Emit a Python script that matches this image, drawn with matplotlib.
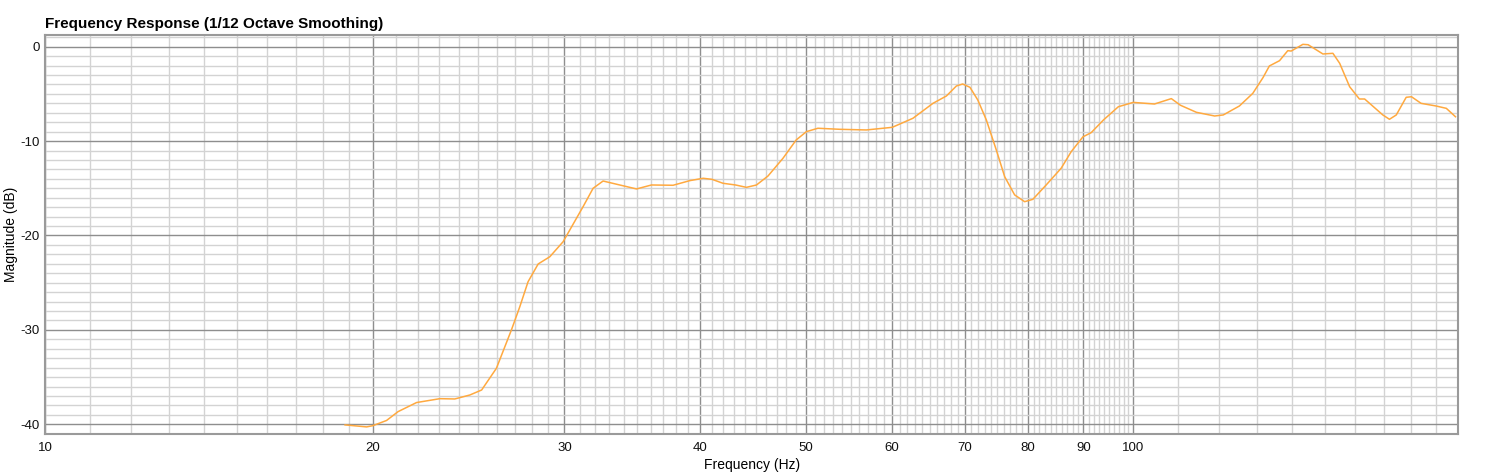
import numpy as np
import matplotlib
matplotlib.use("Agg")
from matplotlib import pyplot as plt
from matplotlib.ticker import FixedLocator, NullFormatter

# frequency response (Hz, dB)
freq_hz = [18.86, 19.74, 20.0, 20.59, 21.1, 21.94, 23.05, 23.79, 24.56, 25.18,
           25.98, 26.82, 27.3, 27.78, 28.38, 29.09, 29.92, 31.21, 31.88, 32.56,
           33.73, 34.95, 36.07, 37.76, 39.12, 40.24, 41.0, 41.97, 43.1, 44.1,
           45.05, 46.16, 47.65, 49.0, 50.07, 51.3, 53.73, 56.84, 60.05, 62.74,
           65.45, 67.34, 68.78, 69.7, 70.78, 71.97, 73.28, 74.84, 76.18, 77.8,
           79.47, 80.86, 83.17, 85.85, 87.7, 89.9, 91.5, 93.9, 96.9, 100.0,
           104.6, 108.4, 110.5, 114.3, 118.8, 121.0, 125.2, 128.8, 131.6, 133.4,
           136.3, 138.7, 139.7, 143.2, 144.8, 149.4, 152.6, 154.8, 158.1, 161.4,
           163.2, 169.6, 172.0, 174.5, 178.2, 180.2, 183.9, 189.8, 194.0, 197.8]
mag_db = [-40.07, -40.28, -40.15, -39.6, -38.66, -37.7, -37.29, -37.32, -36.9, -36.37,
          -34.07, -30.0, -27.54, -24.9, -23.02, -22.25, -20.66, -16.95, -15.0, -14.23,
          -14.65, -15.07, -14.65, -14.68, -14.19, -13.94, -14.05, -14.47, -14.65, -14.9,
          -14.65, -13.7, -11.82, -9.88, -9.0, -8.64, -8.75, -8.82, -8.54, -7.58,
          -6.0, -5.22, -4.16, -3.95, -4.3, -5.65, -7.76, -10.94, -13.77, -15.7,
          -16.42, -16.17, -14.65, -12.88, -11.12, -9.55, -9.1, -7.76, -6.36, -5.9,
          -6.07, -5.5, -6.2, -6.95, -7.34, -7.23, -6.28, -4.94, -3.28, -2.04,
          -1.48, -0.42, -0.46, 0.25, 0.21, -0.77, -0.7, -1.76, -4.24, -5.54,
          -5.54, -7.23, -7.69, -7.23, -5.36, -5.3, -6.0, -6.28, -6.53, -7.42]

major_hz = [10, 20, 30, 40, 50, 60, 70, 80, 90, 100]
minor_hz = [f for f in range(11, 100) if f % 10] + list(range(110, 200, 10))
major_db = [0, -10, -20, -30, -40]
minor_db = [d for d in range(-41, 2) if d % 10]

plt.rcParams['font.family'] = ['Liberation Sans', 'DejaVu Sans']
plt.rcParams['axes.unicode_minus'] = False

fig = plt.figure(figsize=(14.91, 4.73), dpi=100)
ax = fig.add_axes([0.0304, 0.0825, 0.9477, 0.8435])

ax.plot(freq_hz, mag_db, color='#ffa93f', lw=1.1, zorder=3)

ax.set_xscale('log')
ax.set_xlim(10, 199)
ax.set_ylim(-41.03, 1.24)

ax.xaxis.set_major_locator(FixedLocator(major_hz))
ax.xaxis.set_minor_locator(FixedLocator(minor_hz))
ax.set_xticklabels([str(f) for f in major_hz])
ax.xaxis.set_minor_formatter(NullFormatter())
ax.yaxis.set_major_locator(FixedLocator(major_db))
ax.yaxis.set_minor_locator(FixedLocator(minor_db))

ax.grid(which='minor', color='#d3d3d3', lw=1.0, zorder=0)
ax.grid(which='major', color='#8e8e8e', lw=1.0, zorder=1)
ax.set_axisbelow(True)

ax.tick_params(which='both', length=0, labelsize=9.5, colors='#111111')
ax.tick_params(axis='x', pad=6)
ax.tick_params(axis='y', pad=4)
for s in ax.spines.values():
    s.set_color('#9a9a9a')
    s.set_linewidth(1.5)

ax.set_title('Frequency Response (1/12 Octave Smoothing)', loc='left',
             fontsize=11, fontweight='bold', pad=5)
ax.set_xlabel('Frequency (Hz)', fontsize=10, labelpad=3)
ax.set_ylabel('Magnitude (dB)', fontsize=10)
ax.yaxis.set_label_coords(-0.0195, 0.5)

fig.savefig('out.png', dpi=100)
